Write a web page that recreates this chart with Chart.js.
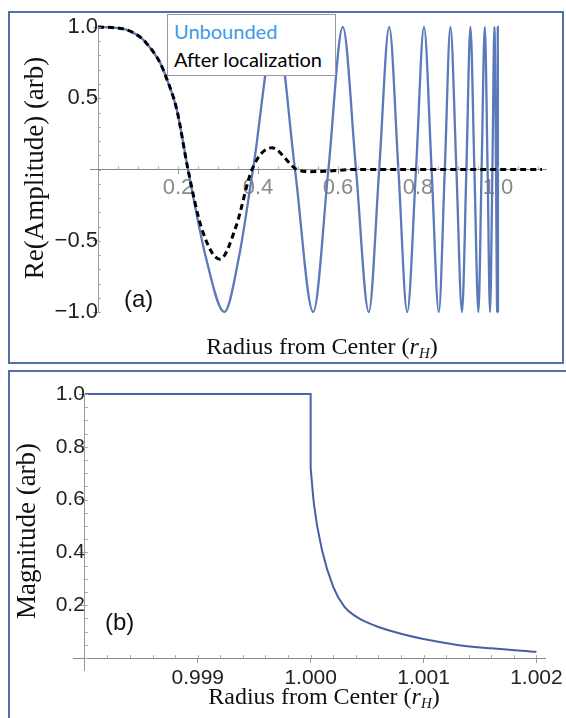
<!DOCTYPE html>
<html lang="en">
<head>
<meta charset="UTF-8">
<title>Unbounded vs localized amplitude</title>
<script src="https://cdn.jsdelivr.net/npm/chart.js"></script>
<style>
    body {
        margin: 0;
        background: #fff;
        width: 566px;
        height: 718px;
        overflow: hidden;
        position: relative;
        font-family: "Liberation Sans", Arial, sans-serif;
    }
    canvas { position: absolute; left: 0; }
    #chartA { top: 0; }
    #chartB { top: 360px; }
    .frame {
        position: absolute;
        border: 2px solid #4f70ad;
        box-sizing: border-box;
    }
    .ytitle, .xtitle {
        position: absolute;
        font-family: "Liberation Serif", "Times New Roman", serif;
        color: #111;
        white-space: nowrap;
        line-height: 1;
    }
    .xtitle { font-size: 24px; transform: translate(-50%, -50%); }
    .ytitle { font-size: 27px; transform: translate(-50%, -50%) rotate(-90deg); }
    .xtitle sub { font-size: 15px; vertical-align: -4px; }
    .panel-tag {
        position: absolute;
        font-size: 24px;
        color: #111;
        line-height: 1;
    }
    .legend {
        position: absolute;
        left: 167px; top: 14px;
        width: 169px; height: 62px;
        box-sizing: border-box;
        background: #fff;
        border: 1px solid #999;
        font-family: Lato, "Open Sans", sans-serif;
        font-size: 20px;
        line-height: 28px;
        padding: 2px 0 0 6px;
    }
</style>
</head>
<body>
    <canvas id="chartA" width="566" height="360"></canvas>
    <canvas id="chartB" width="566" height="358"></canvas>

    <div class="frame" style="left:8px; top:11px; width:556px; height:353px;"></div>
    <div class="frame" style="left:8px; top:370px; width:570px; height:360px;"></div>

    <div class="legend">
        <div style="color:#3b9be8;">Unbounded</div>
        <div style="color:#000;">After localization</div>
    </div>

    <div class="ytitle" style="left:34px; top:168px;">Re(Amplitude) (arb)</div>
    <div class="xtitle" style="left:322px; top:347px;">Radius from Center (<i>r</i><sub><i>H</i></sub>)</div>
    <div class="panel-tag" style="left:124px; top:287px;">(a)</div>

    <div class="ytitle" style="left:26px; top:531px;">Magnitude (arb)</div>
    <div class="xtitle" style="left:324px; top:697px;">Radius from Center (<i>r</i><sub><i>H</i></sub>)</div>
    <div class="panel-tag" style="left:105px; top:610px;">(b)</div>

    <script>
        // panel (a): real part of the amplitude
        const unboundedR = [0, 0.04, 0.072, 0.1, 0.12, 0.155, 0.17, 0.197, 0.225, 0.27, 0.316, 0.352, 0.3875,
            0.445, 0.4925, 0.538, 0.576, 0.612, 0.645, 0.677, 0.703, 0.728, 0.751, 0.773, 0.795, 0.815, 0.834,
            0.852, 0.867, 0.881, 0.896, 0.910, 0.921, 0.931, 0.941, 0.951, 0.959, 0.967, 0.974, 0.980, 0.986,
            0.991, 0.995, 0.998, 0.999, 0.9995, 0.9998, 1.0];
        const unboundedRe = [1, 0.995, 0.98, 0.94, 0.89, 0.75, 0.65, 0.42, 0, -0.62, -1, -0.62, 0,
            1, 0, -1, 0, 1, 0, -1, 0, 1, 0, -1, 0, 1, 0,
            -1, 0, 1, 0, -1, 0, 1, 0, -1, 0, 1, 0, -1, 0,
            1, 0, -1, 0, 1, 0, -1];

        const localizedR = [0, 0.04, 0.072, 0.1, 0.12, 0.155, 0.17, 0.197, 0.225, 0.26, 0.305, 0.345, 0.385,
            0.434, 0.497, 0.53, 0.58, 0.64, 0.75, 0.9, 1.0, 1.11];
        const localizedRe = [1, 0.995, 0.98, 0.94, 0.89, 0.75, 0.65, 0.42, 0, -0.42, -0.63, -0.4, 0,
            0.152, 0, -0.015, -0.01, 0, 0, 0, 0, 0];

        const xTicksA = [0.2, 0.4, 0.6, 0.8, 1.0];
        const yTicksA = [-1, -0.5, 0.5, 1];

        // panel (b): magnitude near the boundary
        const plateauR = [0.998, 1.0, 1.0];
        const plateauMag = [1, 1, 0.72];
        const tailR = [1.0, 1.00003, 1.0001, 1.0002, 1.0003, 1.0004, 1.0005, 1.0006, 1.0008, 1.001, 1.0013, 1.0016, 1.002];
        const tailMag = [0.72, 0.58, 0.41, 0.27, 0.194, 0.158, 0.135, 0.118, 0.092, 0.072, 0.05, 0.037, 0.024];

        const xTicksB = [0.999, 1.000, 1.001, 1.002];
        const yTicksB = [0.2, 0.4, 0.6, 0.8, 1.0];

        const pts = (xs, ys) => xs.map((x, i) => ({ x: x, y: ys[i] }));
        const sans = '"Liberation Sans", Arial, sans-serif';
        const fmt = (v, d) => (v < 0 ? '\u2212' : '') + Math.abs(v).toFixed(d);

        // small minor ticks along both axes, Mathematica style
        const minorTicks = {
            id: 'minorTicks',
            afterDraw(chart, args, opts) {
                const { ctx, scales: { x, y } } = chart;
                const y0 = y.getPixelForValue(opts.xAxisAt);
                const x0 = x.getPixelForValue(opts.yAxisAt);
                ctx.save();
                ctx.strokeStyle = '#aaa';
                ctx.lineWidth = 1;
                ctx.beginPath();
                for (let k = 1; opts.yAxisAt + k * opts.xStep < x.max; k++) {
                    const px = Math.round(x.getPixelForValue(opts.yAxisAt + k * opts.xStep)) + 0.5;
                    ctx.moveTo(px, y0);
                    ctx.lineTo(px, y0 - 3);
                }
                for (let k = Math.ceil(y.min / opts.yStep - 1e-9); k * opts.yStep <= y.max + 1e-9; k++) {
                    const py = Math.round(y.getPixelForValue(k * opts.yStep)) + 0.5;
                    ctx.moveTo(x0, py);
                    ctx.lineTo(x0 + 3, py);
                }
                ctx.stroke();
                ctx.restore();
            }
        };

        new Chart(document.getElementById('chartA'), {
            type: 'line',
            data: {
                datasets: [{
                    label: 'After localization',
                    data: pts(localizedR, localizedRe),
                    borderColor: '#000',
                    borderWidth: 3,
                    borderDash: [6, 4],
                    pointRadius: 0,
                    cubicInterpolationMode: 'monotone',
                    clip: false
                }, {
                    label: 'Unbounded',
                    data: pts(unboundedR, unboundedRe),
                    borderColor: '#5b79bb',
                    borderWidth: 2.3,
                    pointRadius: 0,
                    cubicInterpolationMode: 'monotone',
                    clip: false
                }]
            },
            options: {
                responsive: false,
                animation: false,
                layout: { padding: { top: 27, right: 20, bottom: 48, left: 90 } },
                plugins: {
                    legend: { display: false },
                    tooltip: { enabled: false },
                    minorTicks: { xStep: 0.05, yStep: 0.1, xAxisAt: 0, yAxisAt: 0 }
                },
                scales: {
                    x: {
                        type: 'linear',
                        min: -0.02, max: 1.12,
                        position: { y: 0 },
                        afterBuildTicks: s => { s.ticks = xTicksA.map(v => ({ value: v })); },
                        grid: { drawOnChartArea: false, tickLength: 4, color: '#999' },
                        border: { color: '#888', width: 1 },
                        ticks: { font: { family: sans, size: 22 }, color: '#8a8a8a', padding: 1, maxRotation: 0, callback: v => fmt(v, 1) }
                    },
                    y: {
                        type: 'linear',
                        min: -1, max: 1,
                        position: { x: 0 },
                        afterBuildTicks: s => { s.ticks = yTicksA.map(v => ({ value: v })); },
                        grid: { drawOnChartArea: false, tickLength: 5, color: '#999' },
                        border: { color: '#999', width: 1 },
                        ticks: { font: { family: sans, size: 22 }, color: '#222', padding: 1, callback: v => fmt(v, 1) }
                    }
                }
            },
            plugins: [minorTicks]
        });

        new Chart(document.getElementById('chartB'), {
            type: 'line',
            data: {
                datasets: [{
                    label: 'Magnitude',
                    data: pts(plateauR, plateauMag),
                    borderColor: '#4a62ae',
                    borderWidth: 2,
                    pointRadius: 0,
                    tension: 0,
                    clip: false
                }, {
                    label: 'Magnitude tail',
                    data: pts(tailR, tailMag),
                    borderColor: '#4a5ea8',
                    borderWidth: 2,
                    pointRadius: 0,
                    cubicInterpolationMode: 'monotone',
                    clip: false
                }]
            },
            options: {
                responsive: false,
                animation: false,
                layout: { padding: { top: 34, right: 16, bottom: 48, left: 73 } },
                plugins: {
                    legend: { display: false },
                    tooltip: { enabled: false },
                    minorTicks: { xStep: 0.0002, yStep: 0.05, xAxisAt: 0, yAxisAt: 0.998 }
                },
                scales: {
                    x: {
                        type: 'linear',
                        min: 0.9978947, max: 1.00208,
                        position: { y: 0 },
                        afterBuildTicks: s => { s.ticks = xTicksB.map(v => ({ value: v })); },
                        grid: { drawOnChartArea: false, tickLength: 4, color: '#999' },
                        border: { color: '#888', width: 1 },
                        ticks: { font: { family: sans, size: 21 }, color: '#222', padding: 3, maxRotation: 0, callback: v => v.toFixed(3) }
                    },
                    y: {
                        type: 'linear',
                        min: -0.045, max: 1,
                        position: { x: 0.998 },
                        afterBuildTicks: s => { s.ticks = yTicksB.map(v => ({ value: v })); },
                        grid: { drawOnChartArea: false, tickLength: 5, color: '#999' },
                        border: { color: '#999', width: 1 },
                        ticks: { font: { family: sans, size: 21 }, color: '#222', padding: 1, callback: v => v.toFixed(1) }
                    }
                }
            },
            plugins: [minorTicks]
        });
    </script>
</body>
</html>
